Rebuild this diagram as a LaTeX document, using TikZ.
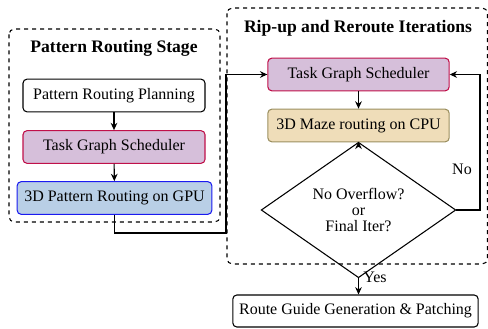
\documentclass[tikz,border=0pt]{standalone}
\usepackage{fontspec}
\setmainfont{Liberation Serif}[Scale=1.2]
\usetikzlibrary{arrows.meta,shapes.geometric}
\definecolor{tgsfill}{HTML}{D6BFDA}
\definecolor{tgsdraw}{HTML}{C0104A}
\definecolor{gpufill}{HTML}{B9CFE6}
\definecolor{gpudraw}{HTML}{1A1AF0}
\definecolor{mazefill}{HTML}{EFDDB9}
\definecolor{mazedraw}{HTML}{9C9060}
\begin{document}
\begin{tikzpicture}[x=0.75pt,y=-0.75pt,
  box/.style={draw, thick, rounded corners=3pt, minimum height=24.5pt, inner sep=0pt, font=\normalsize},
  stage/.style={draw, thick, dashed, rounded corners=4pt},
  arr/.style={thick,-{Stealth[length=5.5pt,width=5pt]}},
  title/.style={font=\fontsize{11}{13}\selectfont\bfseries},
  lbl/.style={font=\normalsize, inner sep=1pt}]
\useasboundingbox (0,0) rectangle (488,328);
\draw[stage] (9,29) rectangle (220,222);
\draw[stage] (227,8) rectangle (487.5,264);
\node[title] (t1) at (114,48) {Pattern Routing Stage};
\node[title] (t2) at (358,28) {Rip-up and Reroute Iterations};
\node[box, minimum width=136.5pt] (n1) at (114,95.5) {Pattern Routing Planning};
\node[box, minimum width=136.5pt, fill=tgsfill, draw=tgsdraw] (n2) at (114,147) {Task Graph Scheduler};
\node[box, minimum width=146pt, fill=gpufill, draw=gpudraw] (n3) at (114.5,198) {3D Pattern Routing on GPU};
\node[box, minimum width=136pt, fill=tgsfill, draw=tgsdraw] (r1) at (358.5,74.5) {Task Graph Scheduler};
\node[box, minimum width=136pt, fill=mazefill, draw=mazedraw] (r2) at (358.5,125.5) {3D Maze routing on CPU};
\node[draw, thick, diamond, minimum width=146pt, minimum height=71pt, inner sep=0pt, align=center, font=\normalsize] (d) at (358.5,210) {No Overflow?\\[0pt]or\\[0pt]Final Iter?};
\node[box, minimum width=184pt, minimum height=24pt] (f) at (355.5,311) {Route Guide Generation \& Patching};
\coordinate (c1) at (226,233);
\coordinate (c2) at (480,210);
\draw[arr] (n1) -- (n2);
\draw[arr] (n2) -- (n3);
\draw[arr] (n3.south) |- (c1) |- (r1.west);
\draw[arr] (r1) -- (r2);
\draw[arr] (r2) -- (d);
\draw[arr] (d.east) -- (c2) |- (r1.east);
\node[lbl] (no) at (462,169) {No};
\draw[arr] (d.south) -- (d.south |- f.north);
\node[lbl] (yes) at (375,277) {Yes};
\end{tikzpicture}
\end{document}
